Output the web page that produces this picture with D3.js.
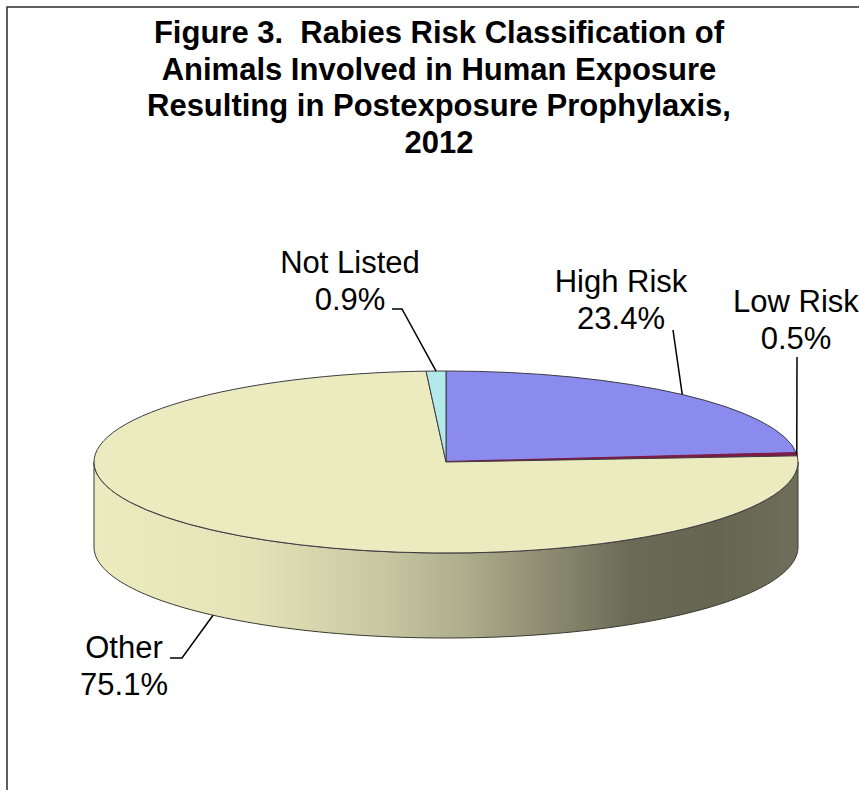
<!DOCTYPE html>
<html>
<head>
<meta charset="utf-8">
<script src="https://cdn.jsdelivr.net/npm/d3@7"></script>
<style>
  html, body { margin: 0; padding: 0; background: #fff; }
  svg { display: block; font-family: "Liberation Sans", Arial, sans-serif; }
</style>
</head>
<body>
<svg id="chart" width="859" height="790"></svg>
<script>
// Rabies risk classification, share of PEP exposures (%)
const categories = ["High Risk", "Low Risk", "Other", "Not Listed"];
const values = [23.4, 0.5, 75.1, 0.9];
const valueLabels = ["23.4%", "0.5%", "75.1%", "0.9%"];
const colors = ["#8b8bee", "#7c1c46", "#ecebbf", "#b2e9ea"];
const titleLines = [
  "Figure 3.  Rabies Risk Classification of",
  "Animals Involved in Human Exposure",
  "Resulting in Postexposure Prophylaxis,",
  "2012"
];

const W = 859, H = 790;
const svg = d3.select("#chart");

// chart frame
svg.append("rect")
  .attr("x", 7).attr("y", 7).attr("width", 900).attr("height", 900)
  .attr("fill", "#fff").attr("stroke", "#2b2b2b").attr("stroke-width", 1.5);

// title
const title = svg.append("text")
  .attr("text-anchor", "middle")
  .attr("font-weight", "bold")
  .attr("font-size", 31)
  .attr("fill", "#000")
  .style("white-space", "pre");
titleLines.forEach((t, i) => {
  title.append("tspan").attr("x", 439).attr("y", 43 + i * 36.5).text(t);
});

// 3-D pie geometry
const cx = 446, cy = 462, rx = 352, ry = 91, depth = 85;
const pie = d3.pie().sort(null).value(d => d.v);
const arcs = pie(categories.map((c, i) => ({ c, v: values[i], col: colors[i], lab: valueLabels[i] })));

const px = a => cx + rx * Math.sin(a);
const py = a => cy - ry * Math.cos(a);

const defs = svg.append("defs");
// side shading: light on the left, dark toward the right
const shade = [[0, 1.0], [0.22, 0.97], [0.42, 0.84], [0.52, 0.74], [0.64, 0.6], [0.76, 0.45], [0.88, 0.43], [1, 0.47]];
arcs.forEach((d, i) => {
  const g = defs.append("linearGradient")
    .attr("id", "side" + i)
    .attr("gradientUnits", "userSpaceOnUse")
    .attr("x1", cx - rx).attr("x2", cx + rx).attr("y1", 0).attr("y2", 0);
  const base = d3.rgb(d.data.col);
  shade.forEach(([o, f]) => {
    g.append("stop").attr("offset", o)
      .attr("stop-color", d3.rgb(base.r * f, base.g * f, base.b * f).formatHex());
  });
});

// visible outer walls (front half: angles between PI/2 and 3PI/2)
const lineGen = d3.line();
arcs.forEach((d, i) => {
  const a0 = Math.max(d.startAngle, Math.PI / 2);
  const a1 = Math.min(d.endAngle, 3 * Math.PI / 2);
  if (a1 <= a0) return;
  const n = 120;
  const top = d3.range(n + 1).map(k => {
    const a = a0 + (a1 - a0) * k / n;
    return [px(a), py(a)];
  });
  const bottom = top.slice().reverse().map(([x, y]) => [x, y + depth]);
  svg.append("path")
    .attr("d", lineGen(top.concat(bottom)) + "Z")
    .attr("fill", `url(#side${i})`)
    .attr("stroke", "#3a3a30").attr("stroke-width", 1)
    .attr("stroke-linejoin", "round");
});

// top faces
arcs.forEach(d => {
  const a0 = d.startAngle, a1 = d.endAngle;
  const large = (a1 - a0) > Math.PI ? 1 : 0;
  const p = `M${cx},${cy}L${px(a0)},${py(a0)}A${rx},${ry} 0 ${large} 1 ${px(a1)},${py(a1)}Z`;
  svg.append("path")
    .attr("d", p)
    .attr("fill", d.data.col)
    .attr("stroke", d.data.c === "Low Risk" ? d.data.col : "#3c3c44")
    .attr("stroke-width", d.data.c === "Low Risk" ? 2 : 1)
    .attr("stroke-linejoin", "round");
});

// label placement and leader line elbows
const labelLayout = {
  "High Risk":  { x: 621, y: 292, lead: [[673, 330]], wall: false },
  "Low Risk":   { x: 796, y: 312, lead: [[797, 357]], wall: false },
  "Other":      { x: 124, y: 658, lead: [[170, 658], [182, 658]], wall: true },
  "Not Listed": { x: 350, y: 273, lead: [[392, 309], [402, 309]], wall: false }
};

arcs.forEach(d => {
  const L = labelLayout[d.data.c];
  const mid = (d.startAngle + d.endAngle) / 2;
  const end = [px(mid), py(mid) + (L.wall ? depth : 0)];
  svg.append("path")
    .attr("d", lineGen(L.lead.concat([end])))
    .attr("fill", "none").attr("stroke", "#000").attr("stroke-width", 1.5);
  const t = svg.append("text")
    .attr("text-anchor", "middle")
    .attr("font-size", 31)
    .attr("fill", "#000");
  t.append("tspan").attr("x", L.x).attr("y", L.y).text(d.data.c);
  t.append("tspan").attr("x", L.x).attr("y", L.y + 36.5).text(d.data.lab);
});
</script>
</body>
</html>
